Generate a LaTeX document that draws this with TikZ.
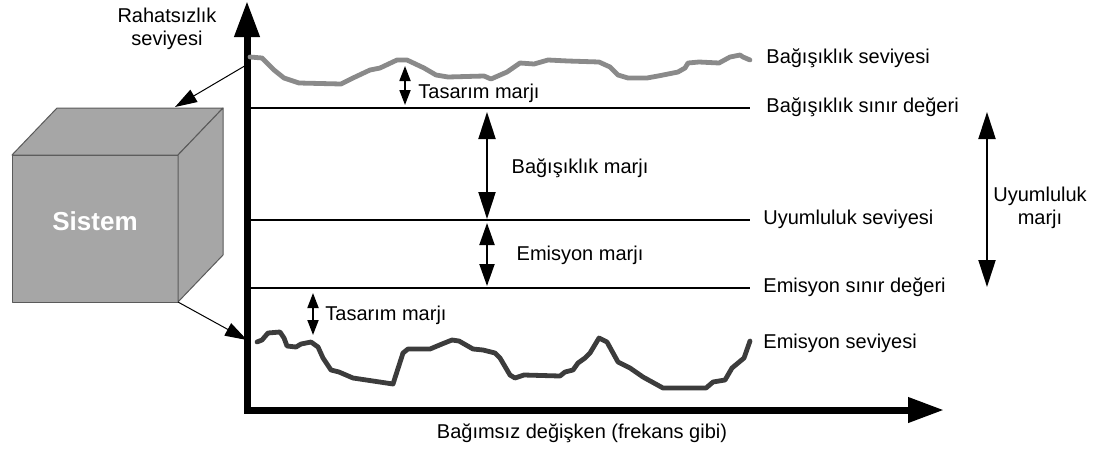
\documentclass[tikz,border=0pt]{standalone}
\usepackage{fontspec}
\setmainfont{Liberation Sans}
\usetikzlibrary{arrows.meta}

\definecolor{cubefill}{HTML}{A6A6A6}
\definecolor{cubeline}{HTML}{5A5A5A}
\definecolor{immgray}{HTML}{8A8A8A}
\definecolor{emigray}{HTML}{3C3C3C}

\begin{document}
\begin{tikzpicture}[
    x=0.5pt, y=-0.5pt,
    font=\fontsize{10}{11.5}\selectfont,
    axis/.style={line width=3.5pt, -{Triangle[length=18pt, width=12pt]}},
    limit/.style={line width=1pt},
    margin/.style={line width=1pt,
        {Triangle[length=13.5pt, width=8.5pt]}-{Triangle[length=13.5pt, width=8.5pt]}},
    shortmargin/.style={line width=1pt,
        {Triangle[length=11pt, width=7.5pt]}-{Triangle[length=11pt, width=7.5pt]}},
    tinymargin/.style={line width=0.9pt,
        {Triangle[length=7.5pt, width=5.5pt]}-{Triangle[length=7.5pt, width=5.5pt]}},
    link/.style={line width=0.5pt, -{Triangle[length=11pt, width=7pt]}},
    face/.style={fill=cubefill, draw=cubeline, line width=0.5pt, line join=round},
    level/.style={line width=2.4pt, line join=round, line cap=round},
    lbl/.style={anchor=west, inner sep=0pt},
    txt/.style={align=center, inner sep=0pt}
]
\useasboundingbox (0,0) rectangle (1106,450);

% system box
\coordinate (fbl) at (12,302);
\coordinate (fbr) at (178,302);
\coordinate (ftr) at (178,155);
\coordinate (ftl) at (12,155);
\coordinate (btl) at (57,108);
\coordinate (btr) at (223,108);
\coordinate (bbr) at (223,255);
\coordinate (cubetop) at (175,107);
\filldraw[face] (fbl) -- (fbr) -- (ftr) -- (ftl) -- cycle;
\filldraw[face] (ftl) -- (ftr) -- (btr) -- (btl) -- cycle;
\filldraw[face] (fbr) -- (bbr) -- (btr) -- (ftr) -- cycle;
\node[txt, text=white, font=\fontsize{13}{15}\selectfont\bfseries] (sistem) at (95,221) {Sistem};

% axes
\coordinate (origin) at (247,410);
\coordinate (ytop) at (247,1);
\coordinate (xend) at (944,410);
\draw[axis] (247,413) -- (ytop);
\draw[axis] (244,410) -- (xend);
\node[txt] (ylabel) at (167,29) {Rahatsızlık\\seviyesi};
\node[txt] (xlabel) at (582,433) {Bağımsız değişken (frekans gibi)};

% limit lines
\coordinate (imml) at (248,108);
\coordinate (comp) at (248,220);
\coordinate (emil) at (248,288);
\draw[limit] (imml) -- (750,108);
\draw[limit] (comp) -- (750,220);
\draw[limit] (emil) -- (750,288);

% immunity and emission levels
\draw[level, immgray] (250,57) -- (262,58) -- (274,70) -- (284,78) -- (299,83)
    -- (341,84) -- (353,78) -- (370,70) -- (380,68) -- (397,60) -- (407,60)
    -- (424,68) -- (436,75) -- (448,77) -- (484,76) -- (491,79) -- (507,72)
    -- (520,63) -- (534,64) -- (548,60) -- (568,61) -- (599,62) -- (610,67)
    -- (618,75) -- (628,78) -- (647,78) -- (658,76) -- (678,72) -- (685,68)
    -- (688,63) -- (699,62) -- (719,63) -- (730,57) -- (740,55) -- (743,57)
    -- (750,60);
\draw[level, emigray] (257,342) -- (262,340) -- (268,333) -- (280,332)
    -- (284,338) -- (287,346) -- (296,347) -- (301,344) -- (311,342)
    -- (318,347) -- (323,358) -- (331,370) -- (339,372) -- (353,378)
    -- (393,384) -- (403,353) -- (408,349) -- (430,349) -- (442,344)
    -- (452,340) -- (459,341) -- (473,349) -- (483,350) -- (495,353)
    -- (500,358) -- (510,375) -- (515,378) -- (524,375) -- (560,376)
    -- (565,372) -- (573,370) -- (578,363) -- (585,358) -- (590,353)
    -- (599,338) -- (607,342) -- (618,362) -- (630,368) -- (643,377)
    -- (663,388) -- (706,388) -- (713,382) -- (725,380) -- (732,368)
    -- (744,358) -- (750,341);

\coordinate (immstart) at (248,64);
\coordinate (emistart) at (247,340);
\draw[link] (immstart) -- (cubetop);
\draw[link] (fbr) -- (emistart);

% level labels
\node[lbl] (immlevel) at (766,58) {Bağışıklık seviyesi};
\node[lbl] (immlimit) at (766,107) {Bağışıklık sınır değeri};
\node[lbl] (complevel) at (763,219) {Uyumluluk seviyesi};
\node[lbl] (emilimit) at (763,287) {Emisyon sınır değeri};
\node[lbl] (emilevel) at (763,343) {Emisyon seviyesi};

% margins
\coordinate (dm1a) at (405,66);
\coordinate (dm1b) at (405,105);
\draw[tinymargin] (dm1a) -- (dm1b);
\node[lbl] (design1) at (418,93) {Tasarım marjı};

\coordinate (imma) at (487,112);
\coordinate (immb) at (487,219);
\draw[margin] (imma) -- (immb);
\node[txt] (immmargin) at (580,168) {Bağışıklık marjı};

\coordinate (emia) at (487,223);
\coordinate (emib) at (487,286);
\draw[shortmargin] (emia) -- (emib);
\node[txt] (emimargin) at (580,255) {Emisyon marjı};

\coordinate (dm2a) at (313,293);
\coordinate (dm2b) at (313,335);
\draw[tinymargin] (dm2a) -- (dm2b);
\node[lbl] (design2) at (325,315) {Tasarım marjı};

\coordinate (compa) at (987,112);
\coordinate (compb) at (987,287);
\draw[margin] (compa) -- (compb);
\node[txt] (compmargin) at (1040,208) {Uyumluluk\\marjı};

\end{tikzpicture}
\end{document}
